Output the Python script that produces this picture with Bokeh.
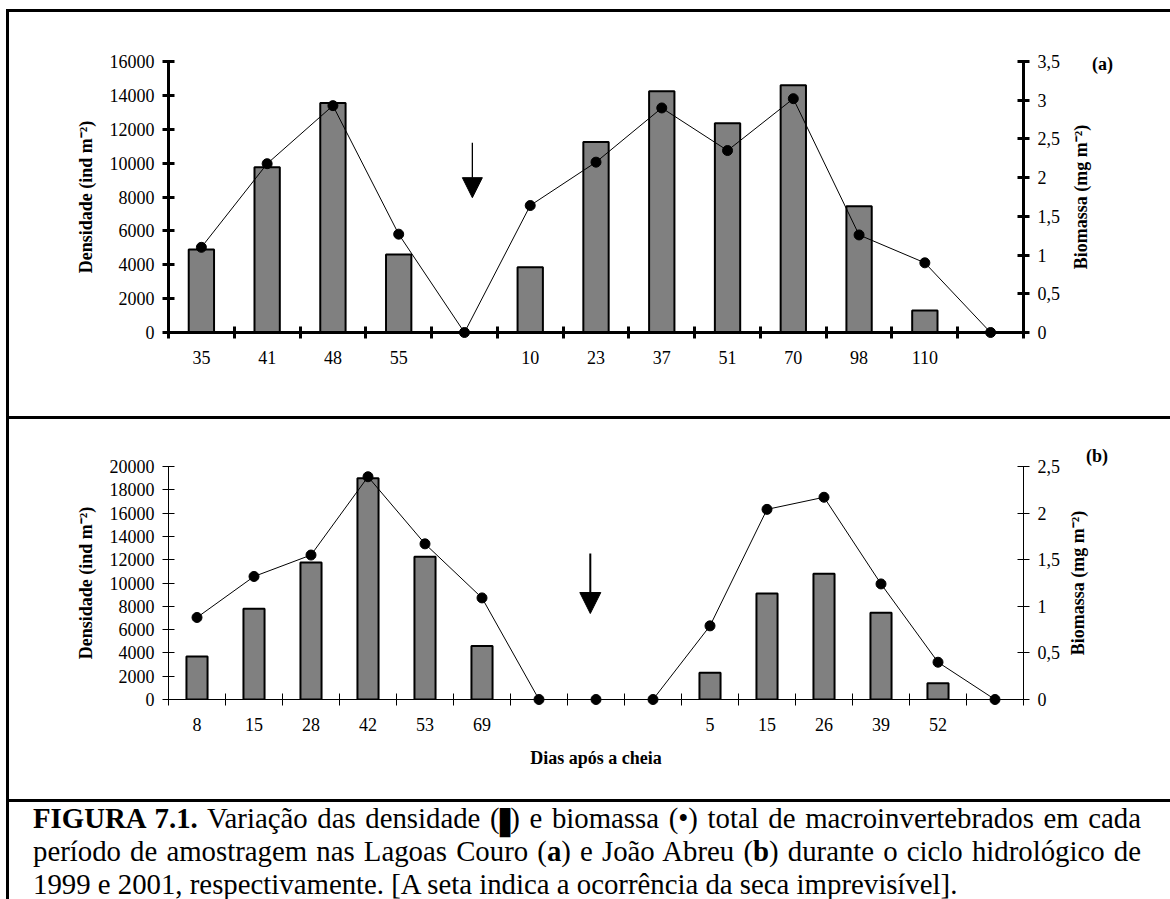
from bokeh.plotting import figure
from bokeh.models import (Range1d, LinearAxis, FixedTicker, CustomJSTickFormatter,
                          Arrow, NormalHead, Div, ColumnDataSource)
from bokeh.core.properties import value
from bokeh.layouts import row, column
from bokeh.embed import file_html
from bokeh.resources import INLINE

FONT = "Liberation Serif"

# Lagoa Couro, 1999 (panel a); empty labels mark the dry period
couro_days = ["35", "41", "48", "55", "", "10", "23", "37", "51", "70", "98", "110", ""]
couro_density = [4900, 9750, 13550, 4600, 0, 3850, 11250, 14250, 12350, 14600, 7450, 1300, 0]
couro_biomass = [1.10, 2.18, 2.93, 1.27, 0, 1.64, 2.20, 2.90, 2.35, 3.02, 1.26, 0.90, 0]
couro_dry = 4

# Lagoa João Abreu, 2001 (panel b)
abreu_days = ["8", "15", "28", "42", "53", "69", "", "", "", "5", "15", "26", "39", "52", ""]
abreu_density = [3700, 7800, 11750, 19000, 12250, 4600, 0, 0, 0, 2300, 9100, 10800, 7450, 1400, 0]
abreu_biomass = [0.88, 1.32, 1.55, 2.39, 1.67, 1.09, 0, 0, 0, 0.79, 2.04, 2.17, 1.24, 0.40, 0]
abreu_dry = 7

PANEL_W = 1161


def comma_formatter():
    return CustomJSTickFormatter(code="return String(tick).replace('.', ',');")


def free_text(p, x, y, text, angle=0.0):
    # text outside the plot frame, drawn unclipped
    p.text(x=[x], y=[y], text=[text], angle=angle, text_align="center",
           text_baseline="middle", text_font=value(FONT), text_font_style="bold",
           text_font_size="18px", text_color="black", level="overlay")


def panel(days, density, biomass, dens_top, dens_step, bio_top, height, borders,
          weight, tick_len, bar_width, tag, tag_xy, title_xy, arrow, xlabel=None):
    n = len(days)
    xs = [i + 0.5 for i in range(n)]
    left, right, top, bottom = borders
    p = figure(width=PANEL_W, height=height, x_range=Range1d(0, n),
               y_range=Range1d(0, dens_top), output_backend="svg",
               toolbar_location=None, min_border_left=left, min_border_right=right,
               min_border_top=top, min_border_bottom=bottom)
    p.extra_y_ranges = {"bio": Range1d(0, bio_top)}
    p.grid.visible = False
    p.outline_line_color = None
    p.background_fill_color = "white"
    p.border_fill_color = "white"

    # density bars (only where samples were taken)
    bar_src = ColumnDataSource(dict(
        x=[x for x, d in zip(xs, density) if d > 0],
        top=[d for d in density if d > 0]))
    p.vbar(x="x", top="top", width=bar_width, source=bar_src,
           fill_color="#808080", line_color="black", line_width=2)

    # biomass line and points on the secondary axis
    bio_src = ColumnDataSource(dict(x=xs, y=biomass))
    p.line("x", "y", source=bio_src, y_range_name="bio", line_color="black",
           line_width=1, level="overlay")
    p.scatter("x", "y", source=bio_src, y_range_name="bio", size=10,
              fill_color="black", line_color="black", level="overlay")

    # category axis: labels at centres, tick marks between categories
    xa = p.xaxis[0]
    xa.ticker = FixedTicker(ticks=xs, minor_ticks=list(range(n + 1)))
    xa.formatter = CustomJSTickFormatter(args=dict(labels=days),
                                         code="return labels[Math.floor(tick)];")
    xa.major_tick_line_color = None
    xa.major_tick_in = 0
    xa.major_tick_out = tick_len
    xa.minor_tick_in = tick_len
    xa.minor_tick_out = tick_len
    xa.minor_tick_line_color = "black"
    xa.minor_tick_line_width = weight
    xa.axis_line_width = weight
    xa.axis_line_color = "black"
    xa.major_label_text_font = FONT
    xa.major_label_text_font_size = "18px"
    xa.major_label_text_color = "black"
    xa.major_label_standoff = 12
    if xlabel:
        xa.axis_label = xlabel
        xa.axis_label_text_font = FONT
        xa.axis_label_text_font_style = "bold"
        xa.axis_label_text_font_size = "18px"
        xa.axis_label_text_color = "black"
        xa.axis_label_standoff = 14

    ya = p.yaxis[0]
    ya.ticker = FixedTicker(ticks=list(range(0, dens_top + 1, dens_step)))
    ya.axis_label = "Densidade (ind m⁻²)"
    ya.axis_label_text_font = FONT
    ya.axis_label_text_font_style = "bold"
    ya.axis_label_text_font_size = "18px"
    ya.axis_label_text_color = "black"
    ya.axis_label_standoff = 11
    ya.major_label_text_font = FONT
    ya.major_label_text_font_size = "18px"
    ya.major_label_text_color = "black"
    ya.major_label_standoff = 8
    ya.major_tick_in = tick_len
    ya.major_tick_out = tick_len
    ya.major_tick_line_width = weight
    ya.axis_line_width = weight
    ya.minor_tick_line_color = None

    steps = int(round(bio_top / 0.5))
    ra = LinearAxis(y_range_name="bio",
                    ticker=FixedTicker(ticks=[k * 0.5 for k in range(steps + 1)]),
                    formatter=comma_formatter())
    ra.major_label_text_font = FONT
    ra.major_label_text_font_size = "18px"
    ra.major_label_text_color = "black"
    ra.major_label_standoff = 8
    ra.major_tick_in = tick_len
    ra.major_tick_out = tick_len
    ra.major_tick_line_width = weight
    ra.axis_line_width = weight
    ra.minor_tick_line_color = None
    p.add_layout(ra, "right")

    free_text(p, title_xy[0], title_xy[1], "Biomassa (mg m⁻²)", angle=1.5707963)
    free_text(p, tag_xy[0], tag_xy[1], tag)

    ax, y0, y1, head, lw = arrow
    p.add_layout(Arrow(end=NormalHead(size=head, fill_color="black", line_color="black"),
                       x_start=ax, y_start=y0, x_end=ax, y_end=y1,
                       line_color="black", line_width=lw))
    return p


pa = panel(couro_days, couro_density, couro_biomass, 16000, 2000, 3.5, 404,
           (159, 147, 49, 84), 3, 6, 0.385, "(a)", (14.2, 15880), (13.87, 8000),
           (couro_dry + 0.62, 11200, 7960, 20, 1.3))
pb = panel(abreu_days, abreu_density, abreu_biomass, 20000, 2000, 2.5, 380,
           (154, 147, 47, 100), 1, 6, 0.37, "(b)", (16.29, 20940), (15.96, 10000),
           (abreu_dry + 0.40, 12530, 7380, 21, 2), xlabel="Dias após a cheia")


def rule(w, h):
    return Div(text="", width=w, height=h, margin=0,
               styles={"background-color": "black"})


line_css = "text-align: justify; text-align-last: justify; white-space: nowrap;"
# narrow, tall bar symbol for the density legend
block = ("<span style=\"display: inline-block; font-size: 15px; line-height: 15px; "
         "transform: scaleY(1.6); vertical-align: 1px;\">█</span>")
caption_html = (
    "<div style=\"font-family: 'Liberation Serif'; font-size: 28.8px; line-height: 33px; "
    "color: black; width: 1132px; padding-left: 24px; margin: 0;\">"
    f"<div style=\"{line_css}\"><b>FIGURA 7.1.</b> Variação das densidade ({block}) e biomassa (•) "
    "total de macroinvertebrados em cada</div>"
    f"<div style=\"{line_css}\">período de amostragem nas Lagoas Couro (<b>a</b>) e João Abreu "
    "(<b>b</b>) durante o ciclo hidrológico de</div>"
    "<div style=\"white-space: nowrap;\">1999 e 2001, respectivamente. [A seta indica a ocorrência "
    "da seca imprevisível].</div>"
    "</div>"
)
caption = Div(text=caption_html, width=PANEL_W, height=97, margin=0,
              styles={"overflow": "hidden"})

for fig in (pa, pb):
    fig.margin = 0

body = column(rule(PANEL_W, 3), pa, rule(PANEL_W, 3), pb, rule(PANEL_W, 3), caption,
              spacing=0, margin=0)
page = row(rule(3, 890), body, spacing=0, margin=(9, 0, 0, 6))

open("out.html", "w").write(file_html(page, INLINE))
